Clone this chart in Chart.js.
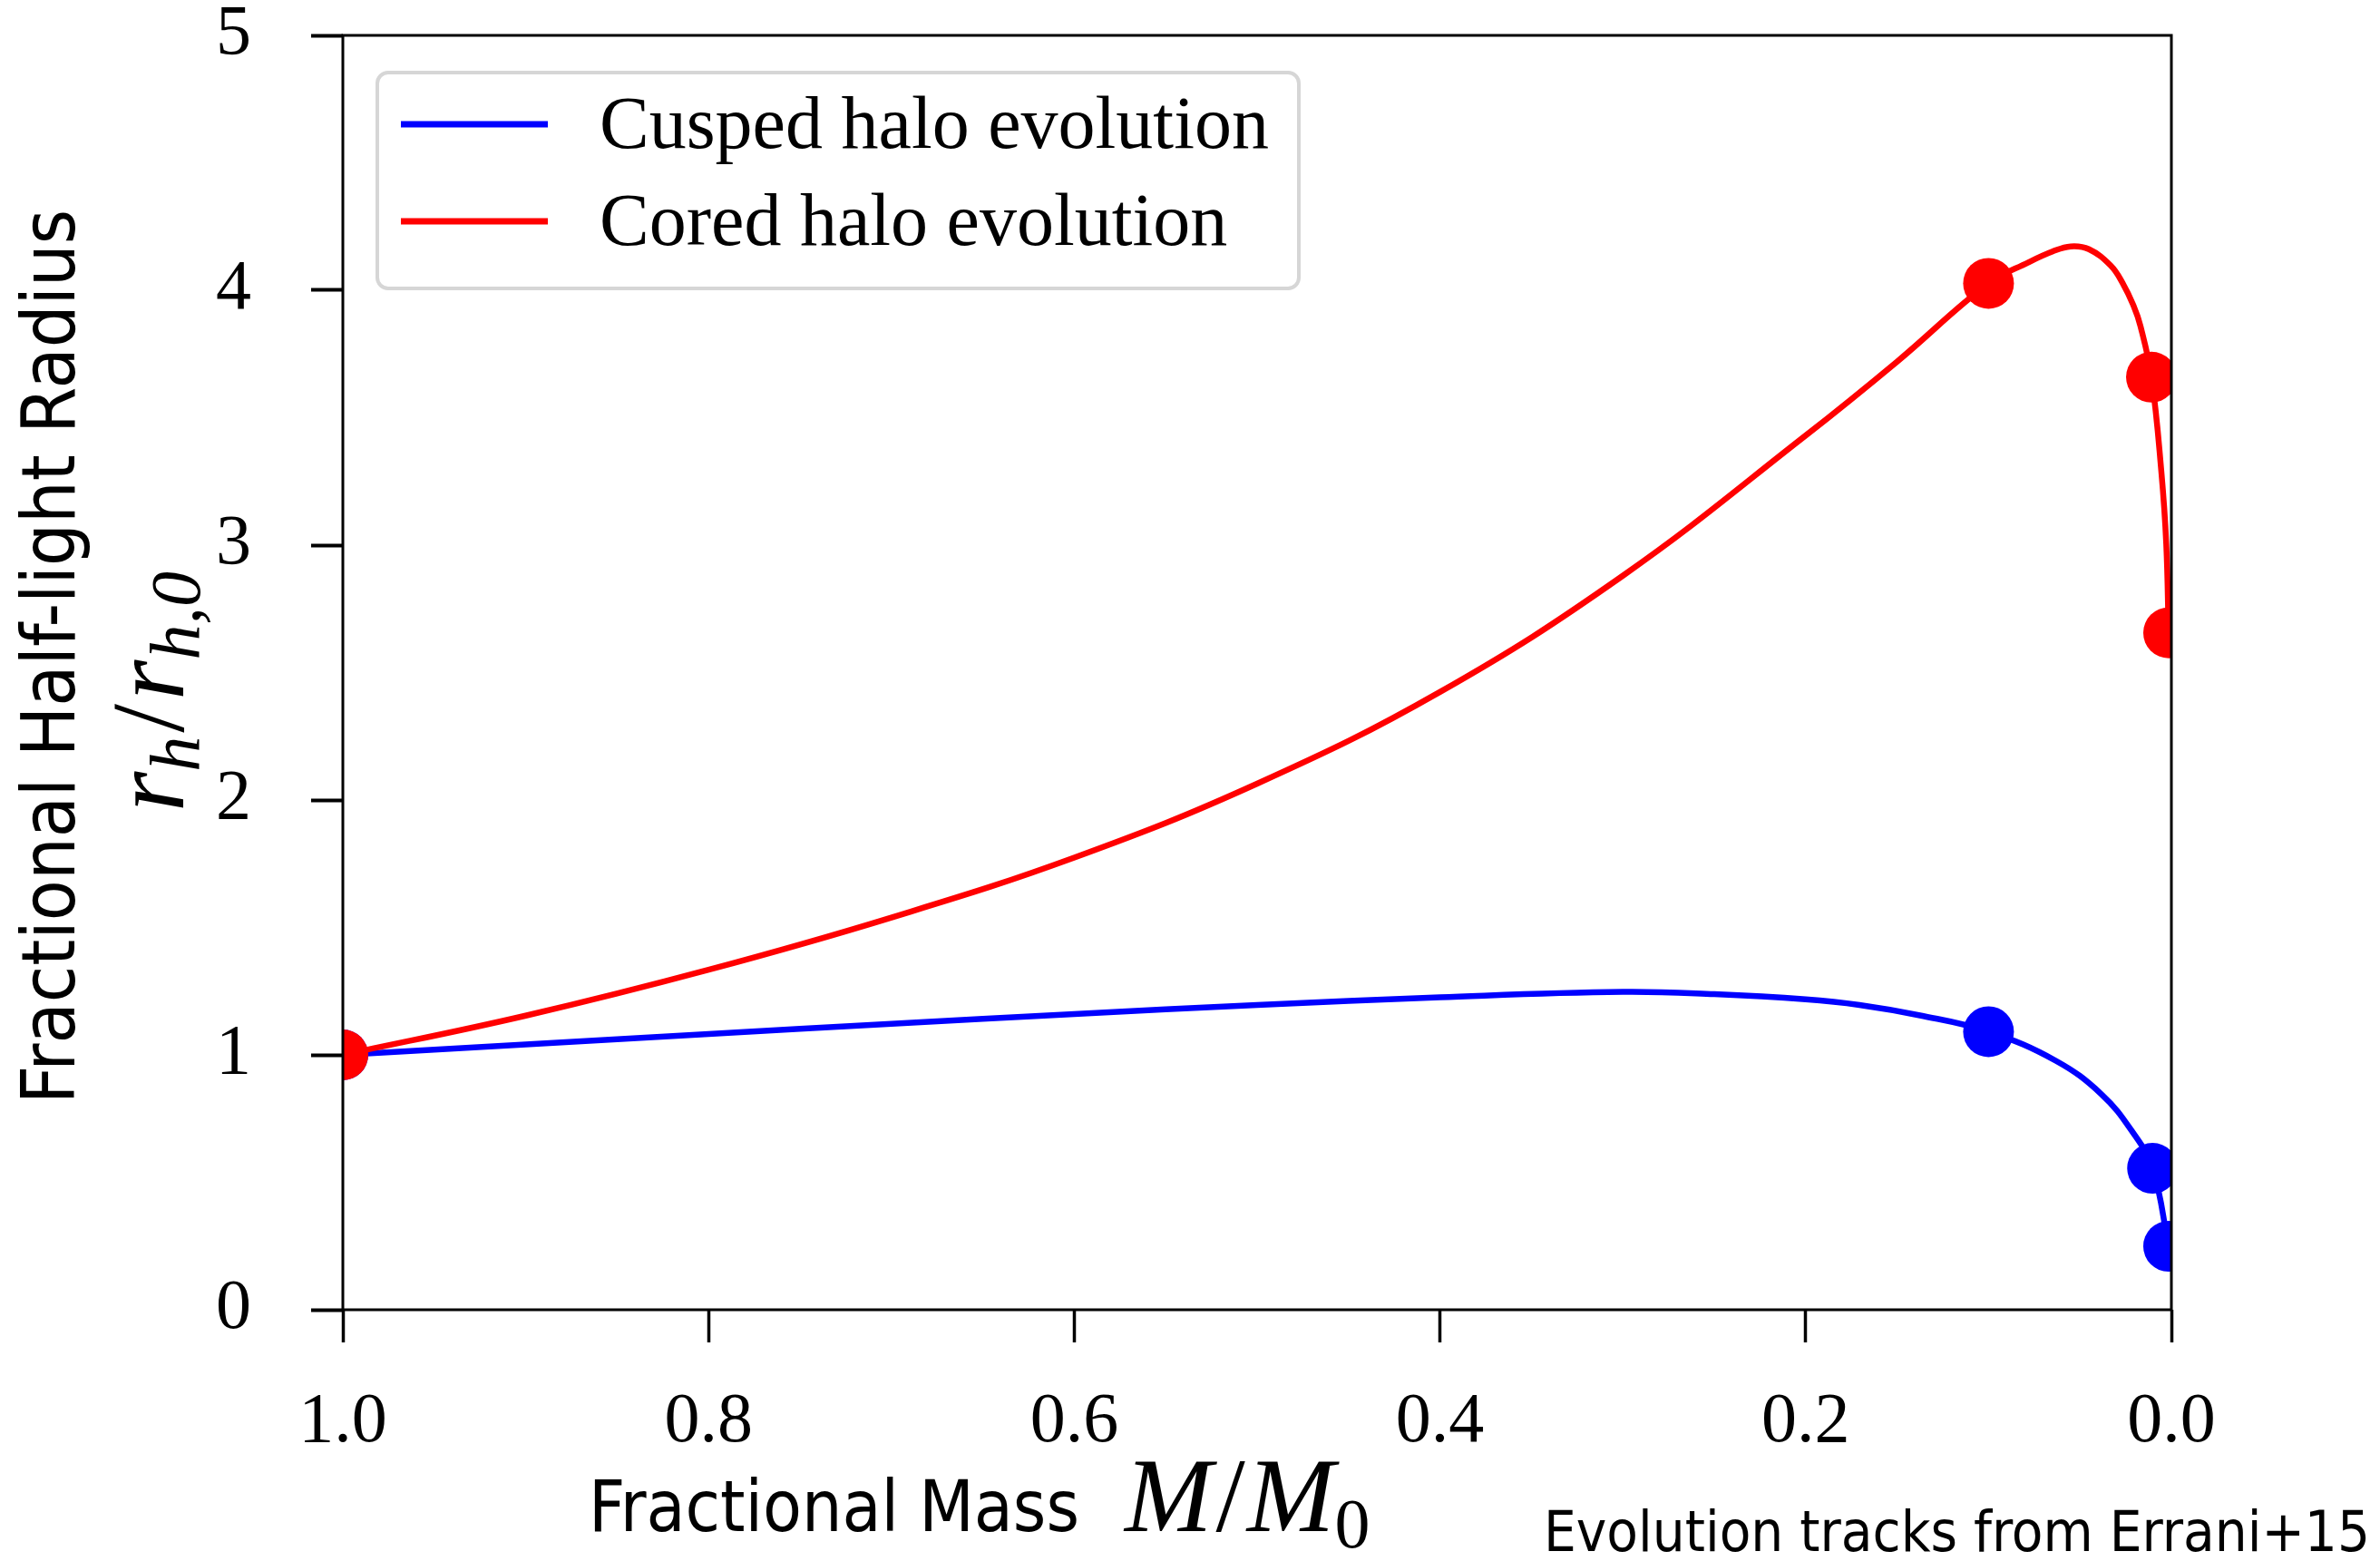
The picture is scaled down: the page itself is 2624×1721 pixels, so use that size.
<!DOCTYPE html>
<html>
<head>
<meta charset="utf-8">
<script src="https://cdn.jsdelivr.net/npm/chart.js@4.4.0/dist/chart.umd.min.js"></script>
<style>
  html, body { margin: 0; padding: 0; background: #fff; }
</style>
</head>
<body>
<canvas id="chart" width="2624" height="1721"></canvas>
<script>
// half-light radius r_h/r_h0 against bound mass M/M0 along each track
const cuspedMass   = [1.0, 0.9, 0.8, 0.7, 0.6, 0.5, 0.4, 0.3, 0.25, 0.2, 0.1706, 0.1375, 0.1, 0.063, 0.0383, 0.0218, 0.0103, 0.0015];
const cuspedRadius = [1.0, 1.041, 1.082, 1.122, 1.16, 1.196, 1.226, 1.247, 1.238, 1.218, 1.196, 1.155, 1.091, 0.976, 0.846, 0.703, 0.555, 0.249];

const coredMass   = [1.0, 0.9, 0.8, 0.7, 0.6, 0.5, 0.4, 0.3, 0.2, 0.15, 0.1, 0.078, 0.065, 0.0551, 0.0451, 0.0332, 0.0268, 0.0208, 0.0169, 0.0109, 0.0055, 0.0028, 0.0015];
const coredRadius = [1.0, 1.154, 1.334, 1.539, 1.774, 2.064, 2.424, 2.88, 3.43, 3.72, 4.027, 4.11, 4.152, 4.172, 4.161, 4.097, 4.03, 3.941, 3.859, 3.659, 3.289, 3.004, 2.656];

// snapshots marked with dots
const cuspedDotMass   = [1.0, 0.1, 0.0103, 0.0015];
const cuspedDotRadius = [1.0, 1.091, 0.555, 0.249];
const coredDotMass    = [1.0, 0.1, 0.0109, 0.0015];
const coredDotRadius  = [1.0, 4.027, 3.659, 2.656];

const massTicks   = [1.0, 0.8, 0.6, 0.4, 0.2, 0.0];
const radiusTicks = [0, 1, 2, 3, 4, 5];

const seriesNames = ["Cusped halo evolution", "Cored halo evolution"];
const BLUE = "#0000ff";
const RED = "#ff0000";

const pts = (xs, ys) => xs.map((x, i) => ({ x: x, y: ys[i] }));

const SERIF = "'Liberation Serif', 'DejaVu Serif', serif";
const SANS = "'DejaVu Sans Condensed', 'DejaVu Sans', sans-serif";

// draw a row of text pieces with their own fonts and baseline shifts
function drawRuns(ctx, runs, x, y) {
  let cx = x;
  runs.forEach(r => {
    ctx.font = r.font;
    cx += r.gap || 0;
    ctx.fillText(r.text, cx, y + (r.dy || 0));
    cx += ctx.measureText(r.text).width;
  });
}

// keep the plot box where it is: no extra room for overhanging tick labels
function noOverhang(s) {
  s.paddingTop = 0;
  s.paddingBottom = 0;
  s.paddingLeft = 0;
  s.paddingRight = 0;
}

const decor = {
  id: "decor",
  afterDatasetsDraw(chart) {
    const { ctx, chartArea: a } = chart;
    ctx.save();
    ctx.strokeStyle = "#000";
    ctx.lineWidth = 3;
    ctx.strokeRect(a.left, a.top, a.right - a.left, a.bottom - a.top);
    ctx.restore();
  },
  afterDraw(chart) {
    const { ctx, chartArea: a } = chart;
    ctx.save();
    ctx.fillStyle = "#000";
    ctx.textBaseline = "alphabetic";

    // legend box
    const lx = a.left + 38, ly = a.top + 41, lw = 1016, lh = 238;
    ctx.beginPath();
    ctx.roundRect(lx, ly, lw, lh, 12);
    ctx.fillStyle = "rgba(255,255,255,0.8)";
    ctx.fill();
    ctx.strokeStyle = "#d6d6d6";
    ctx.lineWidth = 4;
    ctx.stroke();

    const entries = chart.data.datasets.filter(d => d.inLegend);
    entries.forEach((d, i) => {
      const cy = ly + 57 + i * 107;
      ctx.strokeStyle = d.borderColor;
      ctx.lineWidth = 7;
      ctx.beginPath();
      ctx.moveTo(lx + 26, cy);
      ctx.lineTo(lx + 188, cy);
      ctx.stroke();
      ctx.fillStyle = "#000";
      ctx.font = "82px " + SERIF;
      ctx.fillText(d.label, lx + 245, cy + 26);
    });

    // x axis title
    ctx.fillStyle = "#000";
    drawRuns(ctx, [
      { text: "Fractional Mass", font: "78px " + SANS },
      { text: "M", font: "italic 116px " + SERIF, gap: 50 },
      { text: "/", font: "116px " + SERIF, gap: 4 },
      { text: "M", font: "italic 116px " + SERIF, gap: 2 },
      { text: "0", font: "78px " + SERIF, dy: 18 }
    ], 649, 1688);

    // y axis title, rotated
    ctx.save();
    ctx.translate(82, 724);
    ctx.rotate(-Math.PI / 2);
    ctx.textAlign = "center";
    ctx.font = "82px " + SANS;
    ctx.fillText("Fractional Half-light Radius", 0, 0);
    ctx.restore();

    ctx.save();
    ctx.translate(202, 895);
    ctx.rotate(-Math.PI / 2);
    drawRuns(ctx, [
      { text: "r", font: "italic 114px " + SERIF },
      { text: "h", font: "italic 78px " + SERIF, dy: 18 },
      { text: "/", font: "114px " + SERIF, gap: 4 },
      { text: "r", font: "italic 114px " + SERIF, gap: 4 },
      { text: "h,0", font: "italic 78px " + SERIF, dy: 18 }
    ], 0, 0);
    ctx.restore();

    // source note
    ctx.font = "63px " + SANS;
    ctx.fillText("Evolution tracks from Errani+15", 1702, 1710);
    ctx.restore();
  }
};

new Chart(document.getElementById("chart"), {
  type: "line",
  data: {
    datasets: [
      {
        label: seriesNames[0], inLegend: true,
        data: pts(cuspedMass, cuspedRadius),
        borderColor: BLUE, borderWidth: 6.5, pointRadius: 0,
        tension: 0.4, clip: 0, order: 4
      },
      {
        label: "", data: pts(cuspedDotMass, cuspedDotRadius),
        showLine: false, pointRadius: 28, pointBorderWidth: 0,
        pointBackgroundColor: BLUE, borderColor: BLUE, clip: 0, order: 3
      },
      {
        label: seriesNames[1], inLegend: true,
        data: pts(coredMass, coredRadius),
        borderColor: RED, borderWidth: 6.5, pointRadius: 0,
        tension: 0.4, clip: 0, order: 2
      },
      {
        label: "", data: pts(coredDotMass, coredDotRadius),
        showLine: false, pointRadius: 28, pointBorderWidth: 0,
        pointBackgroundColor: RED, borderColor: RED, clip: 0, order: 1
      }
    ]
  },
  options: {
    responsive: false,
    animation: false,
    devicePixelRatio: 1,
    layout: { padding: { left: 0, top: 39, right: 230, bottom: 87 } },
    plugins: { legend: { display: false }, tooltip: { enabled: false } },
    scales: {
      x: {
        type: "linear", min: 0, max: 1, reverse: true,
        afterBuildTicks: s => { s.ticks = massTicks.map(v => ({ value: v })); },
        afterFit: s => { s.height = 190; noOverhang(s); },
        ticks: {
          callback: v => v.toFixed(1),
          font: { family: SERIF, size: 78, lineHeight: 1 },
          color: "#000", padding: 50, maxRotation: 0, autoSkip: false
        },
        grid: { drawOnChartArea: false, tickLength: 36, tickWidth: 3.5, tickColor: "#000" },
        border: { display: false }
      },
      y: {
        type: "linear", min: 0, max: 5,
        afterBuildTicks: s => { s.ticks = radiusTicks.map(v => ({ value: v })); },
        afterFit: s => { s.width = 378; noOverhang(s); },
        ticks: {
          font: { family: SERIF, size: 78, lineHeight: 1 },
          color: "#000", padding: 66, autoSkip: false
        },
        grid: { drawOnChartArea: false, tickLength: 35, tickWidth: 4, tickColor: "#000" },
        border: { display: false }
      }
    }
  },
  plugins: [decor]
});
</script>
</body>
</html>
